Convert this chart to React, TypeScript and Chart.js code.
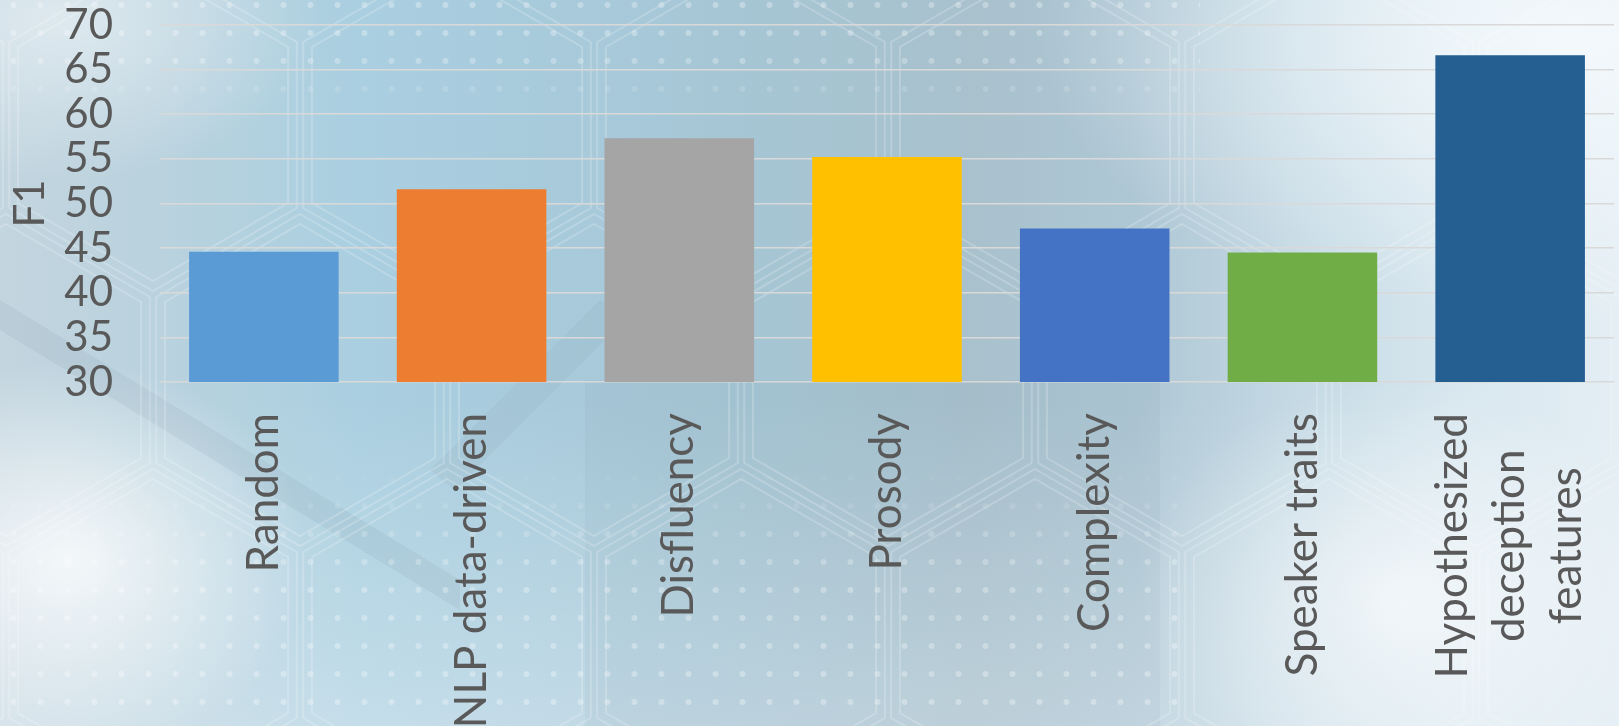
import React, { useEffect, useRef } from "react";
import { Chart, registerables } from "chart.js";

Chart.register(...registerables);

const categories: string[][] = [
  ["Random"],
  ["NLP data-driven"],
  ["Disfluency"],
  ["Prosody"],
  ["Complexity"],
  ["Speaker traits"],
  ["Hypothesized", "deception", "features"],
];
const f1Values = [44.6, 51.6, 57.3, 55.2, 47.2, 44.5, 66.6];
const barColors = ["#5B9BD5", "#ED7D31", "#A5A5A5", "#FFC000", "#4472C4", "#70AD47", "#255E91"];
const yMin = 30;
const yMax = 70;
const yStep = 5;
const yTitle = "F1";

const FONT = "Lato, 'Open Sans', sans-serif";
const TEXT = "#595959";
const X_FONT_SIZE = 44;
const X_LINE_HEIGHT = 57;
const X_PAD = 31;

const xLabelsPlugin = {
  id: "xLabels",
  afterDraw(chart: any) {
    const xs = chart.scales.x;
    const ctx = chart.ctx as CanvasRenderingContext2D;
    ctx.save();
    ctx.fillStyle = TEXT;
    ctx.font = `${X_FONT_SIZE}px ${FONT}`;
    ctx.textBaseline = "middle";
    categories.forEach((lines, i) => {
      const px = xs.getPixelForTick(i);
      const maxW = Math.max(...lines.map((l) => ctx.measureText(l).width));
      ctx.save();
      ctx.translate(px, xs.top);
      ctx.rotate(-Math.PI / 2);
      const n = lines.length;
      lines.forEach((line, j) => {
        const off = (j - (n - 1) / 2) * X_LINE_HEIGHT;
        if (n === 1) {
          ctx.textAlign = "right";
          ctx.fillText(line, -X_PAD, off);
        } else {
          ctx.textAlign = "center";
          ctx.fillText(line, -(X_PAD + maxW / 2), off);
        }
      });
      ctx.restore();
    });
    ctx.restore();
  },
};

function hexPath(cx: number, cy: number, s: number) {
  const w = (s * Math.sqrt(3)) / 2;
  const pts = [
    [cx, cy - s],
    [cx + w, cy - s / 2],
    [cx + w, cy + s / 2],
    [cx, cy + s],
    [cx - w, cy + s / 2],
    [cx - w, cy - s / 2],
  ];
  return "M" + pts.map((p) => p[0].toFixed(1) + " " + p[1].toFixed(1)).join(" L") + " Z";
}

function hexSvg() {
  const s = 170;
  const dx = 294;
  const paths: string[] = [];
  const rows = [
    { y: 125, x0: 153 },
    { y: 380, x0: 300 },
    { y: 635, x0: 153 },
  ];
  rows.forEach((r) => {
    for (let k = -1; k < 7; k++) {
      const cx = r.x0 + k * dx;
      paths.push(hexPath(cx, r.y, s - 4));
      paths.push(hexPath(cx, r.y, s - 14));
    }
  });
  const svg =
    `<svg xmlns='http://www.w3.org/2000/svg' width='1619' height='726'>` +
    `<path d='M0 300 L460 580 L460 610 L0 330 Z' fill='rgba(110,130,145,0.10)'/>` +
    `<path d='M600 300 L430 470 L455 490 L625 320 Z' fill='rgba(110,130,145,0.08)'/>` +
    `<rect x='585' y='380' width='575' height='346' fill='rgba(120,140,150,0.07)'/>` +
    paths.map((d) => `<path d='${d}' fill='none' stroke='rgba(255,255,255,0.2)' stroke-width='2'/>`).join("") +
    `</svg>`;
  return `url("data:image/svg+xml,${encodeURIComponent(svg)}")`;
}

export default function App() {
  const ref = useRef<HTMLCanvasElement | null>(null);
  useEffect(() => {
    document.body.style.margin = "0";
    const chart = new Chart(ref.current as HTMLCanvasElement, {
      type: "bar",
      data: {
        labels: categories.map((c) => c.join(" ")),
        datasets: [
          {
            data: f1Values,
            backgroundColor: barColors,
            borderWidth: 0,
            barPercentage: 0.72,
            categoryPercentage: 1,
          },
        ],
      },
      options: {
        animation: false,
        responsive: true,
        maintainAspectRatio: false,
        layout: { padding: { top: 25, right: 5, left: 6, bottom: 0 } },
        plugins: { legend: { display: false }, tooltip: { enabled: false } },
        scales: {
          x: {
            grid: { display: false, drawTicks: false },
            border: { display: false },
            ticks: { display: false },
            afterFit: (s: any) => {
              s.height = 344;
              s.paddingLeft = 0;
              s.paddingRight = 0;
            },
          },
          y: {
            min: yMin,
            max: yMax,
            grid: { color: "#d9d9d9", lineWidth: 1.6, drawTicks: false },
            border: { display: false },
            ticks: {
              stepSize: yStep,
              autoSkip: false,
              padding: 47,
              color: TEXT,
              font: { family: FONT, size: 42, lineHeight: 1.0 },
            },
            title: {
              display: true,
              text: yTitle,
              color: TEXT,
              font: { family: FONT, size: 42, lineHeight: 1.0 },
              padding: { top: 3, bottom: 0 },
            },
            afterFit: (s: any) => {
              s.width = 154;
              s.paddingTop = 0;
              s.paddingBottom = 0;
            },
          },
        },
      },
      plugins: [xLabelsPlugin],
    });
    return () => chart.destroy();
  }, []);

  const bg = [
    "radial-gradient(ellipse 240px 200px at 70px 560px, rgba(255,255,255,0.8), rgba(255,255,255,0) 100%)",
    "radial-gradient(ellipse 260px 220px at 1400px 600px, rgba(255,255,255,0.65), rgba(255,255,255,0) 100%)",
    "radial-gradient(ellipse 520px 280px at 1560px 40px, rgba(245,250,253,0.9), rgba(245,250,253,0) 100%)",
    "radial-gradient(ellipse 260px 160px at 60px 20px, rgba(235,242,246,0.7), rgba(235,242,246,0) 100%)",
    "linear-gradient(180deg, rgba(255,255,255,0) 0%, rgba(255,255,255,0) 55%, rgba(235,243,248,0.4) 100%)",
    "linear-gradient(90deg, #c3d5df 0%, #b9d2de 10%, #aacfe0 22%, #a8cbdc 33%, #a6c6d5 45%, #a8c1cd 60%, #aec7d4 70%, #c4d9e4 80%, #d8e7ef 90%, #e4eef4 100%)",
  ].join(", ");

  const dots = "radial-gradient(circle, rgba(255,255,255,0.3) 0px, rgba(255,255,255,0.3) 2.5px, rgba(255,255,255,0) 3.5px)";

  return (
    <div
      style={{
        position: "absolute",
        left: 0,
        top: 0,
        width: 1619,
        height: 726,
        background: bg,
        overflow: "hidden",
      }}
    >
      <div style={{ position: "absolute", inset: 0, backgroundImage: hexSvg() }} />
      <div
        style={{
          position: "absolute",
          left: 0,
          top: 0,
          width: 1200,
          height: 120,
          backgroundImage: dots,
          backgroundSize: "27px 28px",
          backgroundPosition: "0px -9px",
          WebkitMaskImage: "linear-gradient(180deg, #000 0%, #000 45%, transparent 100%)",
          maskImage: "linear-gradient(180deg, #000 0%, #000 45%, transparent 100%)",
        }}
      />
      <div
        style={{
          position: "absolute",
          left: 0,
          top: 460,
          width: 1180,
          height: 266,
          backgroundImage: dots,
          backgroundSize: "27px 28px",
          backgroundPosition: "0px 4px",
          WebkitMaskImage: "linear-gradient(180deg, transparent 0%, #000 45%, #000 100%)",
          maskImage: "linear-gradient(180deg, transparent 0%, #000 45%, #000 100%)",
        }}
      />
      <div style={{ position: "absolute", inset: 0 }}>
        <canvas ref={ref} />
      </div>
    </div>
  );
}
